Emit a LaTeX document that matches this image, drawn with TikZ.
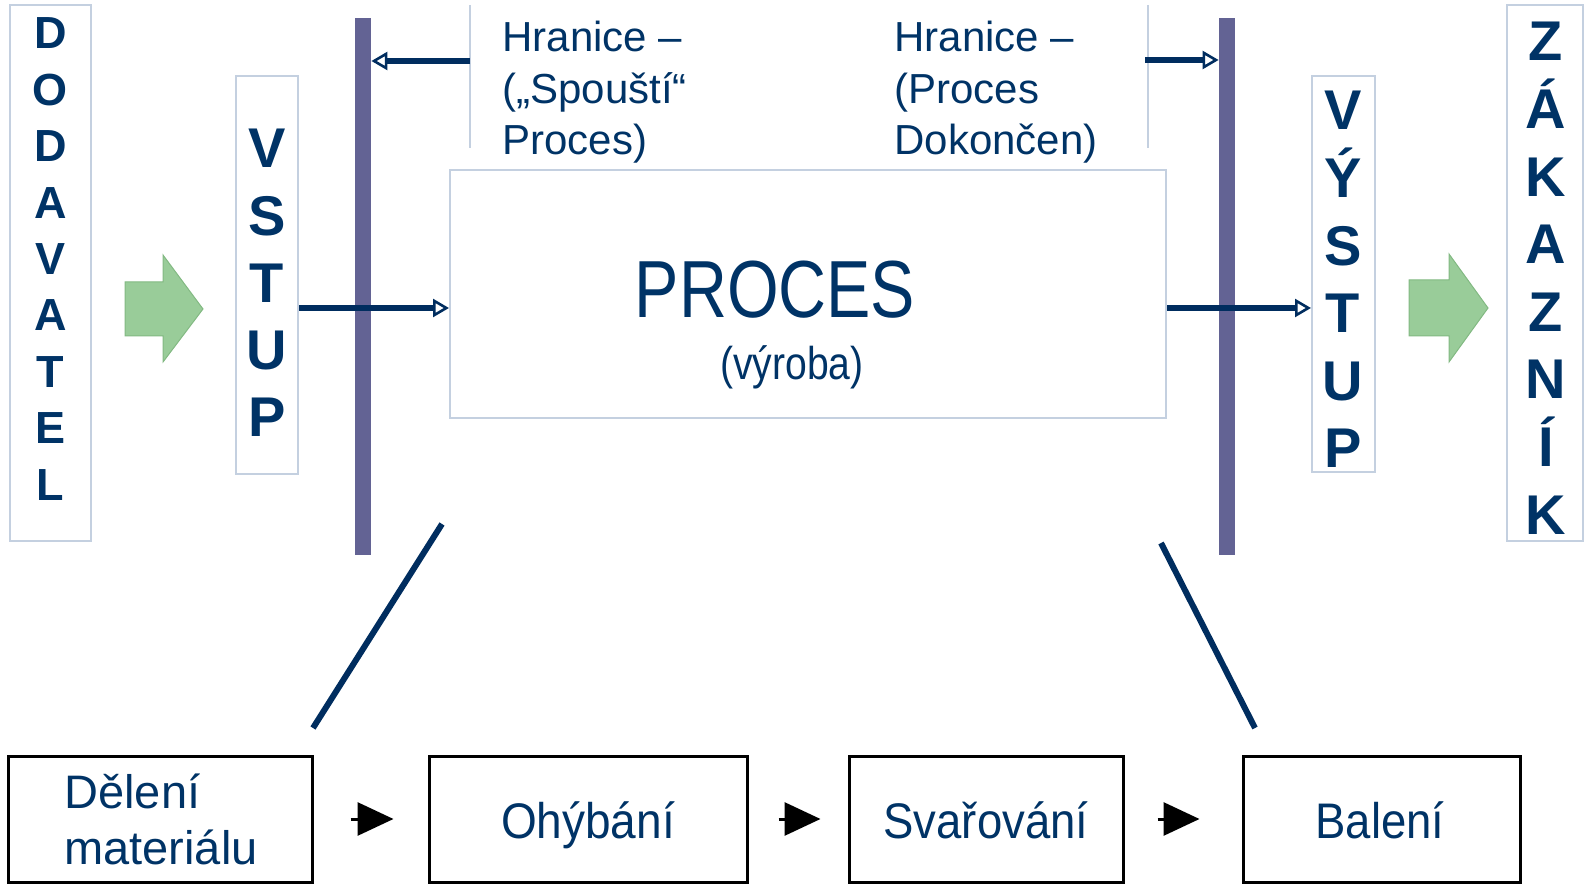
\documentclass[tikz,border=0pt]{standalone}
\usepackage{fontspec}
\setmainfont{Liberation Sans}
\usetikzlibrary{arrows.meta}
\definecolor{txt}{RGB}{0,51,102}
\definecolor{navy}{RGB}{0,45,95}
\definecolor{barc}{RGB}{99,99,148}
\definecolor{lbord}{RGB}{196,208,224}
\definecolor{gfill}{RGB}{153,204,153}
\definecolor{gedge}{RGB}{130,185,130}
\begin{document}
\begin{tikzpicture}[x=0.5pt,y=-0.5pt,
 lightbox/.style={draw=lbord, line width=1pt, inner sep=0pt},
 barbox/.style={fill=barc, draw=none, minimum width=8pt, minimum height=268.5pt, inner sep=0pt},
 stepbox/.style={draw=black, line width=1.5pt, inner sep=0pt, minimum height=63pt},
 bigletter/.style={text=txt, font=\fontsize{28}{28}\selectfont\bfseries, anchor=base, inner sep=0pt},
 smallletter/.style={text=txt, font=\fontsize{22.5}{22.5}\selectfont\bfseries, anchor=base, inner sep=0pt},
 hlabel/.style={text=txt, font=\fontsize{21}{25.8}\selectfont, align=left, anchor=base west, inner sep=0pt},
 steptext/.style={text=txt, font=\fontsize{25}{27.5}\selectfont, anchor=base, inner sep=0pt},
 guide/.style={draw=lbord, line width=0.8pt},
 flow/.style={draw=navy, line width=2.8pt, -{Triangle[open, length=8pt, width=9pt, line width=1.3pt]}},
 diag/.style={draw=navy, line width=3pt},
 steparrow/.style={draw=black, line width=1.5pt, -{Triangle[length=18pt, width=16.5pt]}},
 garrow/.style={fill=gfill, draw=gedge, line width=0.5pt}]
\useasboundingbox (0,0) rectangle (1586,887);

% side boxes
\node[lightbox, minimum width=40.5pt, minimum height=268pt] (dod) at (50.5,273) {};
\node[lightbox, minimum width=31pt, minimum height=199pt] (vstup) at (267,275) {};
\node[lightbox, minimum width=358pt, minimum height=124pt] (proces) at (808,294) {};
\node[lightbox, minimum width=31.5pt, minimum height=198pt] (vystup) at (1343.5,274) {};
\node[lightbox, minimum width=38pt, minimum height=268pt] (zak) at (1545,273) {};

\foreach \l [count=\i] in {D,O,D,A,V,A,T,E,L}
  \node[smallletter] (dodL\i) at (50.5,{49+56.4*(\i-1)}) {\l};
\foreach \l [count=\i] in {V,S,T,U,P}
  \node[bigletter] (vstL\i) at (267,{168+67.1*(\i-1)}) {\l};
\foreach \l [count=\i] in {V,Ý,S,T,U,P}
  \node[bigletter] (vysL\i) at (1343,{130+67.6*(\i-1)}) {\l};
\foreach \l [count=\i] in {Z,Á,K,A,Z,N,Í,K}
  \node[bigletter] (zakL\i) at (1546,{61+67.6*(\i-1)}) {\l};

% green arrows
\draw[garrow] (125,282) -- (163,282) -- (163,255) -- (203,309) -- (163,362) -- (163,336) -- (125,336) -- cycle;
\draw[garrow] (1409,280) -- (1449,280) -- (1449,254) -- (1488,308) -- (1449,362) -- (1449,336) -- (1409,336) -- cycle;

% process text
\node[text=txt, font=\fontsize{40.5}{40.5}\selectfont, anchor=base, inner sep=0pt] (ptitle) at (775,318) {\scalebox{0.82}[1]{PROCES}};
\node[text=txt, font=\fontsize{23}{23}\selectfont, anchor=base, inner sep=0pt] (psub) at (792,380) {\scalebox{0.85}[1]{(výroba)}};

% boundary labels
\coordinate (g1a) at (470,5);
\coordinate (g1b) at (470,148);
\coordinate (g2a) at (1148,5);
\coordinate (g2b) at (1148,148);
\draw[guide] (g1a) -- (g1b);
\draw[guide] (g2a) -- (g2b);
\node[hlabel] (hr1) at (502,155) {Hranice –\\(„Spouští“\\Proces)};
\node[hlabel] (hr2) at (894,155) {Hranice –\\(Proces\\Dokončen)};

% bars
\node[barbox] (bar1) at (363,286.5) {};
\node[barbox] (bar2) at (1227,287) {};

% flow arrows
\coordinate (hl) at (470,61);
\coordinate (hr) at (1145,60);
\coordinate (inY) at (0,308);
\draw[flow] (hl) -- (hl -| bar1.east);
\draw[flow] (hr) -- (hr -| bar2.west);
\draw[flow] (vstup.east |- inY) -- (proces.west |- inY);
\draw[flow] (proces.east |- inY) -- (vystup.west |- inY);

% zoom lines
\coordinate (d1a) at (442,524);
\coordinate (d1b) at (313,728);
\coordinate (d2a) at (1161,543);
\coordinate (d2b) at (1255,728);
\draw[diag] (d1a) -- (d1b);
\draw[diag] (d2a) -- (d2b);

% step boxes
\node[stepbox, minimum width=152pt] (box1) at (160,819) {};
\node[stepbox, minimum width=159pt] (box2) at (588,819) {};
\node[stepbox, minimum width=137pt] (box3) at (986,819) {};
\node[stepbox, minimum width=138.5pt] (box4) at (1381.5,819) {};
\node[text=txt, font=\fontsize{23.5}{27.8}\selectfont, align=left, anchor=base west, inner sep=0pt] (t1) at (64,864) {Dělení\\materiálu};
\node[steptext] (t2) at (588,838) {\scalebox{0.92}[1]{Ohýbání}};
\node[steptext] (t3) at (986,838) {\scalebox{0.91}[1]{Svařování}};
\node[steptext] (t4) at (1380,838) {\scalebox{0.91}[1]{Balení}};

\draw[steparrow, shorten <=18.5pt, shorten >=17pt] (box1.east) -- (box2.west);
\draw[steparrow, shorten <=15pt, shorten >=13.5pt] (box2.east) -- (box3.west);
\draw[steparrow, shorten <=16.5pt, shorten >=21pt] (box3.east) -- (box4.west);
\end{tikzpicture}
\end{document}
